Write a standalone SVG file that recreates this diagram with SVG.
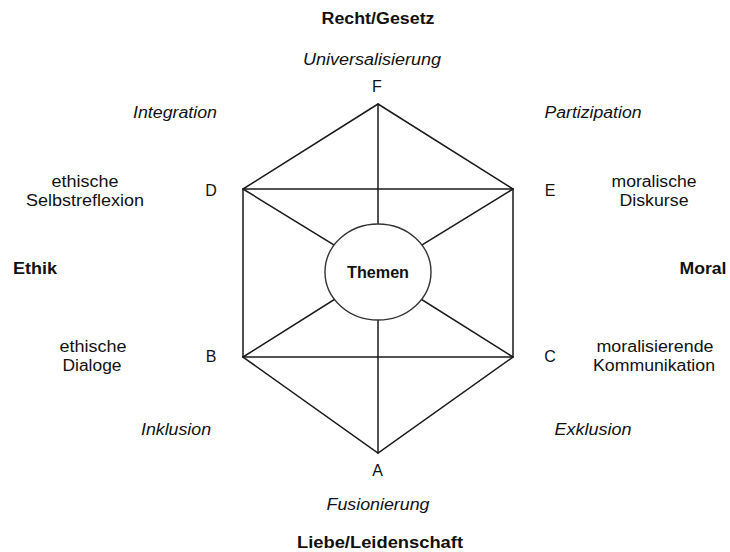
<svg xmlns="http://www.w3.org/2000/svg" width="730" height="552" viewBox="0 0 730 552">
  <style>
    text { font-family: "Liberation Sans", Arial, Helvetica, sans-serif; font-size: 16px; fill: #111; text-anchor: middle; }
    .b { font-weight: bold; }
    .i { font-style: italic; }
    .edge { stroke: #1a1a1a; stroke-width: 1.5; fill: none; stroke-linecap: round; }
    .hub { fill: #fff; stroke: #333; stroke-width: 1.4; }
  </style>
  <rect width="730" height="552" fill="#fff"/>

  <!-- connectors: hexagon outline, cross bars and spokes to the hub -->
  <g id="connectors" class="edge">
    <polygon points="378,104 513,189 513,357 378,453 243,357 243,189"/>
    <line x1="243" y1="189" x2="513" y2="189"/>
    <line x1="243" y1="357" x2="513" y2="357"/>
    <line x1="378" y1="104" x2="378" y2="453"/>
    <line x1="243" y1="189" x2="378" y2="272"/>
    <line x1="513" y1="189" x2="378" y2="272"/>
    <line x1="243" y1="357" x2="378" y2="272"/>
    <line x1="513" y1="357" x2="378" y2="272"/>
  </g>

  <!-- central hub -->
  <g id="themen">
    <ellipse class="hub" cx="378" cy="272" rx="53" ry="48"/>
    <text class="b" x="378" y="278" font-size="15" textLength="62" lengthAdjust="spacingAndGlyphs">Themen</text>
  </g>

  <!-- vertex F (top) -->
  <g id="node-F">
    <text class="b" x="378" y="24" textLength="113" lengthAdjust="spacingAndGlyphs">Recht/Gesetz</text>
    <text class="i" x="372" y="65" textLength="138" lengthAdjust="spacingAndGlyphs">Universalisierung</text>
    <text x="377" y="92">F</text>
  </g>

  <!-- vertex D (upper left) -->
  <g id="node-D">
    <text class="i" x="175" y="118" textLength="84" lengthAdjust="spacingAndGlyphs">Integration</text>
    <text x="85" y="187" textLength="67" lengthAdjust="spacingAndGlyphs">ethische</text>
    <text x="85" y="206" textLength="118" lengthAdjust="spacingAndGlyphs">Selbstreflexion</text>
    <text x="211" y="196">D</text>
  </g>

  <!-- vertex E (upper right) -->
  <g id="node-E">
    <text class="i" x="593" y="118" textLength="97" lengthAdjust="spacingAndGlyphs">Partizipation</text>
    <text x="654" y="187" textLength="85" lengthAdjust="spacingAndGlyphs">moralische</text>
    <text x="654" y="206" textLength="69" lengthAdjust="spacingAndGlyphs">Diskurse</text>
    <text x="550" y="196">E</text>
  </g>

  <!-- side labels -->
  <g id="label-ethik">
    <text class="b" x="35" y="274" textLength="44" lengthAdjust="spacingAndGlyphs">Ethik</text>
  </g>
  <g id="label-moral">
    <text class="b" x="703" y="274" textLength="47" lengthAdjust="spacingAndGlyphs">Moral</text>
  </g>

  <!-- vertex B (lower left) -->
  <g id="node-B">
    <text x="93" y="352" textLength="67" lengthAdjust="spacingAndGlyphs">ethische</text>
    <text x="92" y="371" textLength="59" lengthAdjust="spacingAndGlyphs">Dialoge</text>
    <text x="211" y="362">B</text>
    <text class="i" x="176" y="435" textLength="70" lengthAdjust="spacingAndGlyphs">Inklusion</text>
  </g>

  <!-- vertex C (lower right) -->
  <g id="node-C">
    <text x="655" y="352" textLength="117" lengthAdjust="spacingAndGlyphs">moralisierende</text>
    <text x="654" y="371" textLength="122" lengthAdjust="spacingAndGlyphs">Kommunikation</text>
    <text x="550" y="362">C</text>
    <text class="i" x="593" y="435" textLength="77" lengthAdjust="spacingAndGlyphs">Exklusion</text>
  </g>

  <!-- vertex A (bottom) -->
  <g id="node-A">
    <text x="377.5" y="476">A</text>
    <text class="i" x="378" y="510" textLength="103" lengthAdjust="spacingAndGlyphs">Fusionierung</text>
    <text class="b" x="380" y="548" textLength="166" lengthAdjust="spacingAndGlyphs">Liebe/Leidenschaft</text>
  </g>
</svg>
